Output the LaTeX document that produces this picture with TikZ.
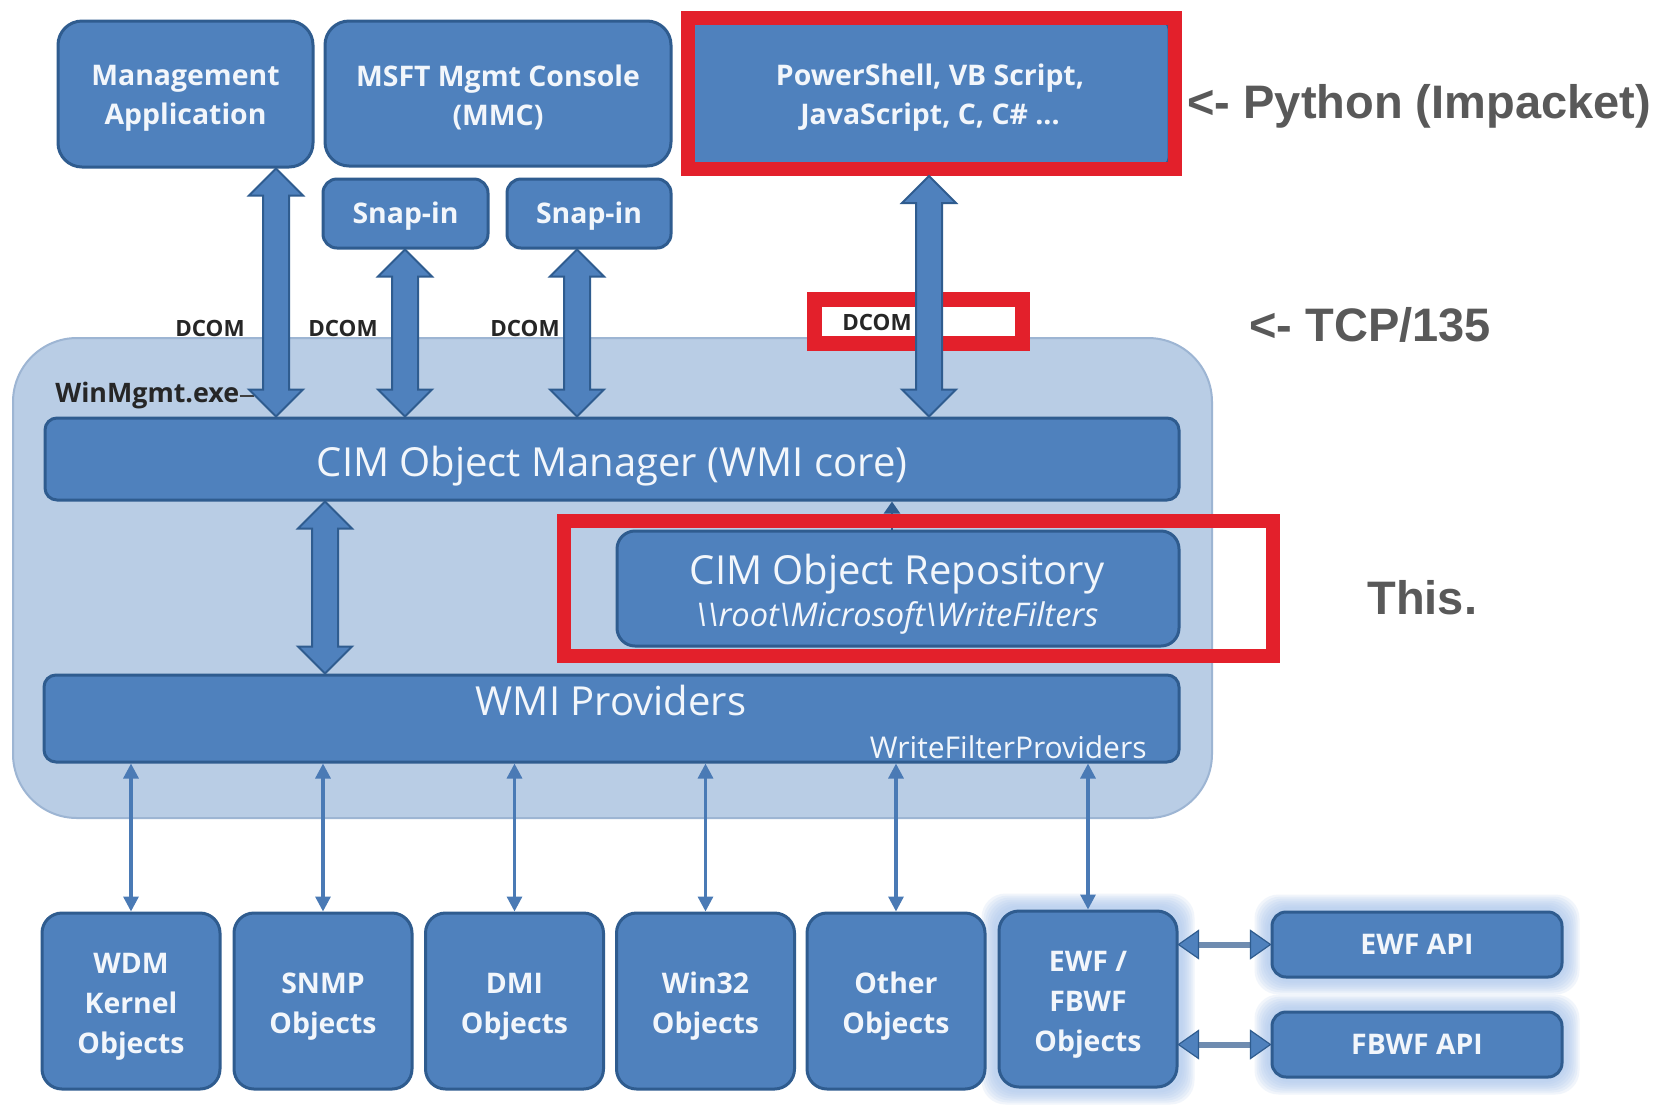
\documentclass[tikz,border=0pt]{standalone}
\usepackage{fontspec}
\setmainfont{Open Sans}
\newfontfamily\notefont{Liberation Sans}
\usetikzlibrary{calc,arrows.meta}
\pgfdeclarelayer{paper}
\pgfdeclarelayer{halo}
\pgfsetlayers{paper,halo,main}

\definecolor{boxblue}{HTML}{4F81BD}
\definecolor{boxedge}{HTML}{2F5C8F}
\definecolor{tiletext}{HTML}{F2F6FB}
\definecolor{panel}{HTML}{B9CDE5}
\definecolor{paneledge}{HTML}{9DB5D3}
\definecolor{hilite}{HTML}{E3202B}
\definecolor{notegray}{HTML}{595959}
\definecolor{glow}{HTML}{A9C6EC}
\definecolor{stemgray}{HTML}{6F8CB0}
\definecolor{linkblue}{HTML}{4A7AB5}

% a taller first line, so that a text block sits a little lower in its box
\newcommand\lowered[1]{\rule{0pt}{#1}}

\tikzset{
  boxsize/.style 2 args={minimum width=#1*0.5pt, minimum height=#2*0.5pt},
  tile/.style={rectangle, fill=boxblue, draw=boxedge, line width=1.5pt,
    text=tiletext, font=\bfseries\fontsize{14.2}{19.5}\selectfont,
    align=center, inner sep=0pt},
  bar/.style={rectangle, fill=boxblue, draw=boxedge, line width=1.5pt,
    rounded corners=6pt, inner sep=0pt},
  bartext/.style={text=tiletext, font=\fontsize{20}{24}\selectfont, inner sep=0pt},
  pathtext/.style={text=tiletext, font=\itshape\fontsize{16.3}{19}\selectfont, inner sep=0pt},
  panelbox/.style={rectangle, fill=panel, draw=paneledge, line width=1pt,
    rounded corners=32pt, inner sep=0pt},
  hiframe/.style={rectangle, draw=hilite, line width=7pt, inner sep=0pt},
  dcom/.style={font=\bfseries\fontsize{11.2}{13}\selectfont, text=black!85, inner sep=0pt},
  note/.style={font=\notefont\bfseries\fontsize{23.5}{28}\selectfont,
    text=notegray, inner sep=0pt, anchor=west},
  duct/.style={fill=boxblue, draw=boxedge, line width=1pt, line join=miter},
  link/.style={draw=linkblue, line width=1.6pt,
    {Triangle[length=7.5pt,width=7.5pt]}-{Triangle[length=7.5pt,width=7.5pt]}},
}

% vertical block arrow with a head at each end; #1 fixes x, #2 upper end, #3 lower end
\newcommand\vduct[3]{%
  \draw[duct] let \p1=(#2 -| #1), \p2=(#3 -| #1) in
    (\x1,\y1) -- (\x1+13.5pt,\y1-13.5pt) -- (\x1+6.5pt,\y1-13.5pt)
    -- (\x1+6.5pt,\y2+13.5pt) -- (\x1+13.5pt,\y2+13.5pt) -- (\x2,\y2)
    -- (\x1-13.5pt,\y2+13.5pt) -- (\x1-6.5pt,\y2+13.5pt)
    -- (\x1-6.5pt,\y1-13.5pt) -- (\x1-13.5pt,\y1-13.5pt) -- cycle;}

% horizontal two-headed arrow with a grey stem; #1 left end, #2 right end
\newcommand\hduct[2]{%
  \draw[stemgray, line width=3pt] let \p1=(#1), \p2=(#2) in
    (\x1+9pt,\y1) -- (\x2-9pt,\y1);
  \path[fill=boxblue, draw=boxedge, line width=.6pt] let \p1=(#1), \p2=(#2) in
    (\x1,\y1) -- (\x1+10pt,\y1+7pt) -- (\x1+10pt,\y1-7pt) -- cycle
    (\x2,\y2) -- (\x2-10pt,\y2+7pt) -- (\x2-10pt,\y2-7pt) -- cycle;}

% soft light-blue halo around a node
\newcommand\halo[1]{%
  \begin{pgfonlayer}{halo}
  \foreach \g in {16,14,12,10,8,6,4} {
    \fill[glow, opacity=0.16, rounded corners=12pt]
      ($(#1.south west)+(-\g,\g)$) rectangle ($(#1.north east)+(\g,-\g)$);}
  \end{pgfonlayer}}

\begin{document}
\begin{tikzpicture}[x=0.5pt,y=-0.5pt]
\begin{pgfonlayer}{paper}
  \fill[white] (0,0) rectangle (1655,1110);
\end{pgfonlayer}
\useasboundingbox (0,0) rectangle (1655,1110);

% x positions of the block arrows
\coordinate (xa) at (276,0);
\coordinate (xb) at (405,0);
\coordinate (xc) at (577,0);
\coordinate (xd) at (929,0);
\coordinate (xe) at (325,0);
\coordinate (xr) at (892,0);

% WinMgmt.exe service area
\node[panelbox, boxsize={1199}{480}] (panel) at (612.5,578) {};
\node[hiframe, fill=white, boxsize={208}{44}, line width=7.5pt] (tcpframe) at (918,321) {};

% clients
\node[tile, boxsize={255}{146}, rounded corners=12pt] (mgmt) at (185.5,94)
  {\lowered{14.5pt}Management\\Application};
\node[tile, boxsize={346}{145}, rounded corners=12pt] (mmc) at (498,93.5)
  {\lowered{14.5pt}MSFT Mgmt Console\\(MMC)};
\node[tile, boxsize={478}{145}, rounded corners=4pt] (ps) at (930,93.5)
  {\lowered{14.5pt}PowerShell, VB Script,\\JavaScript, C, C\# ...};
\node[hiframe, boxsize={487}{151}] (psframe) at (931.5,93.5) {};
\node[tile, boxsize={165}{69}, rounded corners=7pt] (snapa) at (405.5,213.5) {\lowered{13pt}Snap-in};
\node[tile, boxsize={164}{69}, rounded corners=7pt] (snapb) at (589,213.5) {\lowered{13pt}Snap-in};

% WMI core
\node[bar, boxsize={1134}{82}] (cimom) at (612,459) {};
\node[bartext] (cimomtitle) at (612,466) {CIM Object Manager (WMI core)};
\node[bar, boxsize={562}{115}, rounded corners=9pt] (repo) at (898,588.5) {};
\node[bartext] (repotitle) at (897,574) {CIM Object Repository};
\node[pathtext] (repopath) at (897,618)
  {\textbackslash\textbackslash root\textbackslash Microsoft\textbackslash WriteFilters};
\node[bar, boxsize={1135}{87}] (wmip) at (611.5,718.5) {};
\node[bartext] (wmiptitle) at (611,700) {WMI Providers};
\node[text=tiletext, font=\fontsize{15}{17}\selectfont, inner sep=0pt, anchor=east]
  (wfp) at (1147,747) {WriteFilterProviders};

\node[font=\bfseries\fontsize{13.4}{15}\selectfont, text=black!85, inner sep=0pt, anchor=west]
  (wm) at (55,396) {WinMgmt.exe};
\draw[black!75, line width=1pt] (wm.east) -- ++(14,0);

% managed objects
\begin{scope}[every node/.style={tile, boxsize={178}{176}, rounded corners=10pt,
    font=\bfseries\fontsize{14.2}{20}\selectfont}]
\node (wdm)   at (131,1001)    {\lowered{16pt}WDM\\Kernel\\Objects};
\node (snmp)  at (323,1001)    {\lowered{16pt}SNMP\\Objects};
\node (dmi)   at (514.5,1001)  {\lowered{16pt}DMI\\Objects};
\node (win32) at (705.5,1001)  {\lowered{16pt}Win32\\Objects};
\node (other) at (896,1001)    {\lowered{16pt}Other\\Objects};
\node (ewf)   at (1088,999)    {\lowered{16pt}EWF /\\FBWF\\Objects};
\end{scope}
\node[tile, boxsize={290}{65}, rounded corners=7pt] (ewfapi) at (1417,944.5) {EWF API};
\node[tile, boxsize={290}{65}, rounded corners=7pt] (fbwfapi) at (1417,1044.5) {FBWF API};
\halo{ewf}
\halo{ewfapi}
\halo{fbwfapi}

% provider links
\foreach \obj in {wdm,snmp,dmi,win32,other,ewf}
  \draw[link] (wmip.south -| \obj.north) -- (\obj.north);
\hduct{ewf.east |- ewfapi.west}{ewfapi.west}
\hduct{ewf.east |- fbwfapi.west}{fbwfapi.west}

% repository to object manager
\draw[boxedge, line width=1.2pt, -{Triangle[length=6pt,width=8pt]}]
  (repo.north -| xr) -- (cimom.south -| xr);
\node[hiframe, boxsize={709}{135}] (repoframe) at (918.5,588.5) {};

% DCOM channels
\node[dcom] (d1) at (210,328) {DCOM};
\node[dcom] (d2) at (343,328) {DCOM};
\node[dcom] (d3) at (525,328) {DCOM};
\node[dcom] (d4) at (877,322) {DCOM};
\vduct{xa}{mgmt.south}{cimom.north}
\vduct{xb}{snapa.south}{cimom.north}
\vduct{xc}{snapb.south}{cimom.north}
\vduct{xd}{psframe.south}{cimom.north}
\vduct{xe}{cimom.south}{wmip.north}

% notes
\node[note] (n1) at (1187,106) {<- Python (Impacket)};
\node[note] (n2) at (1249,325) {<- TCP/135};
\node[note] (n3) at (1367,598) {This.};
\end{tikzpicture}
\end{document}
